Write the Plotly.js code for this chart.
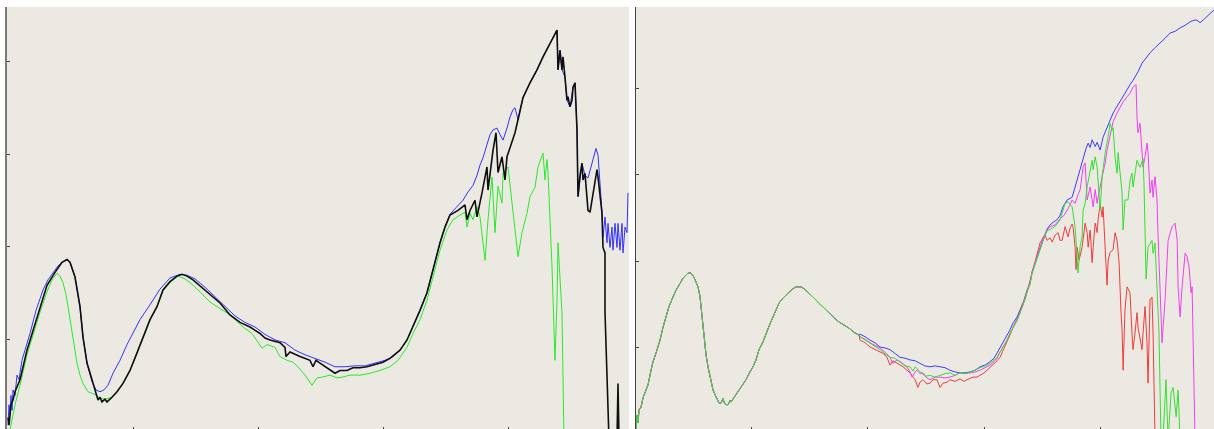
<!DOCTYPE html>
<html>
<head>
<meta charset="utf-8">
<script src="https://cdn.plot.ly/plotly-3.0.1.min.js"></script>
<style>
html,body{margin:0;padding:0;background:#fff;overflow:hidden;}
#chart{width:1214px;height:432px;}
</style>
</head>
<body>
<div id="chart"></div>
<script>
// ---------- Left panel ----------
const lBlackX = [0,0.8,2.4,4,5.6,9.6,15.2,20,25.6,31.2,37.6,43.2,47.2,49.6,53.6,57.6,60,63.2,67.2,69.6,72,73.6,75.2,77.6,79.2,83.2,87.2,92,97.6,103.2,108,113.6,119.2,124,129.6,135.2,139.2,143.2,148,156,164,169.6,177.6,185.6,193.6,201.6,205.6,209.6,217.6,221.6,222.4,225.6,233.6,237.6,241.6,244,246.4,249.6,253.6,257.6,261.6,265.6,271.2,276,281.6,287.2,292,297.6,300,305.6,313.6,319.2,324,329.6,335.2,340,345.6,349.6,353.6,360,365.6,367.2,369.6,373.6,375.2,379.2,383.2,384,388,390.4,392,395.2,397.6,399.2,403.2,405.6,408,409.6,412,417.6,423.2,428,433.6,439.2,440,441.6,443.2,444,445.6,447.2,448,449.6,451.2,452,453.6,455.2,456,457.6,459.2,460,461.6,464,465.6,468,471.2,472,475.2,476,477.6,477.6,480.8,483.2,487.2,488,488.8];
const lBlackY = [1.5,0.7,2.9,3.4,4.3,5.6,8.8,10.9,13.5,15.8,17.2,18.3,18.6,18.3,16.7,13.5,10.2,7.4,5.6,4.5,3.4,3.7,3.2,3.5,3.2,3.7,4.3,5.2,6.6,8.5,10.2,12.1,13.5,15.3,16.2,16.8,17.0,16.8,16.4,15.5,14.5,13.9,12.6,11.8,11.3,10.6,10.1,9.9,9.6,9.1,8.1,8.6,8.1,7.9,7.7,7.0,7.7,7.4,7.0,6.6,6.3,6.6,6.6,6.9,6.9,7.0,7.2,7.4,7.5,7.9,8.8,9.9,11.3,13.1,15.0,17.5,20.4,22.1,23.4,23.9,24.5,22.9,23.9,25.0,23.2,25.8,28.6,26.1,30.4,32.3,28.0,29.7,27.2,29.7,31.5,32.3,33.7,34.8,36.1,37.7,39.1,40.5,42.0,43.4,39.1,41.2,39.1,40.5,38.3,35.8,36.2,35.1,35.8,37.2,37.7,32.6,25.4,27.7,29.0,27.2,27.9,23.9,23.7,25.8,28.3,27.5,23.6,19.9,19.3,12.9,-0.9,-0.9,-0.9,5.2,-0.9];

const lBlueX = [0,0.8,1.6,2.4,3.2,4,5.6,7.2,8.8,11.2,13.6,17.6,22.4,28,32,36,40,43.2,47.2,49.6,53.6,57.6,60,63.2,67.2,70.4,73.6,76.8,80,84,89.6,95.2,100,105.6,113.6,121.6,129.6,137.6,143.2,149.6,157.6,165.6,173.6,181.6,189.6,197.6,205.6,213.6,221.6,229.6,237.6,245.6,253.6,261.6,269.6,277.6,285.6,293.6,301.6,308,313.6,319.2,324,329.6,335.2,340,345.6,349.6,353.6,358.4,364,368,372,375.2,377.6,380,383.2,385.6,388,391.2,393.6,396,399.2,401.6,404,405.6,408,409.6,412,417.6,423.2,428,433.6,439.2,440,441.6,443.2,445.6,447.2,449.6,452,453.6,455.2,456,459.2,461.6,464,465.6,468,470.4,472,473.6,475.2,476,477.6,479.2,480,481.6,483.2,484,485.6,487.2,488,489.6,491.2,492,493.6,495.2,496];
const lBlueY = [0.7,2.9,1.8,3.9,2.3,4.5,3.9,6.1,5.6,7.7,8.8,10.6,13.1,15.3,16.4,17.1,17.9,18.3,18.6,18.3,16.7,13.5,10.2,7.4,5.4,4.5,4.3,4.5,5.0,6.3,7.7,9.4,10.6,12.1,13.7,15.4,16.6,17.0,16.9,16.5,15.6,14.6,13.5,12.5,11.8,11.3,10.5,9.9,9.6,8.8,8.3,7.9,7.5,7.0,7.0,7.1,7.1,7.4,7.7,8.1,8.8,9.9,11.3,13.1,15.0,17.5,20.4,22.1,23.5,24.2,25.0,25.9,26.6,27.7,28.8,29.6,31.0,32.1,32.6,32.8,32.1,31.5,32.8,34.0,34.8,35.0,33.7,34.8,36.1,37.7,39.1,40.5,42.0,43.4,39.1,41.2,39.1,38.3,35.8,35.1,37.2,37.7,32.6,25.4,29.0,27.7,27.4,28.2,29.4,30.6,29.9,27.2,23.7,21.0,23.2,20.4,22.5,19.9,22.1,19.6,22.5,19.9,22.5,19.6,22.5,19.3,22.1,21.5,25.8];

const lGreenX = [0,3.2,5.6,9.6,15.2,20,25.6,31.2,35.2,39.2,41.6,44,46.4,48,49.6,51.2,53.6,55.2,57.6,60,64,69.6,73.6,77.6,83.2,87.2,92,97.6,103.2,108,113.6,119.2,124,129.6,136,141.6,145.6,153.6,161.6,169.6,177.6,184,188,195.2,200,203.2,207.2,213.6,217.6,223.2,228,232,237.6,243.2,247.2,252,257.6,263.2,268,273.6,281.6,289.6,297.6,305.6,312,319.2,324,329.6,335.2,340,345.6,351.2,356,361.6,365.6,367.2,369.6,372,375.2,377.6,381.6,384,387.2,389.6,392,395.2,396,400,404,408,411.2,415.2,417.6,421.6,424,428,429.6,431.2,432,435.2,437.6,439.2,440,441.6,443.2,444.8];
const lGreenY = [-0.9,1.2,2.9,5.0,8.3,10.4,12.9,15.1,16.4,17.1,16.8,16.1,14.8,13.5,12.1,10.6,8.8,7.4,6.1,5.2,4.3,4.0,3.6,3.5,3.7,4.3,5.2,6.6,8.5,10.2,12.1,13.5,15.2,16.1,16.8,16.5,16.1,15.1,14.0,13.3,12.6,11.8,11.3,10.6,9.6,9.0,9.4,9.1,8.1,7.7,7.5,7.0,6.1,5.0,5.8,5.9,6.1,5.8,5.9,6.1,6.1,6.3,6.6,7.0,7.7,9.1,10.6,12.1,14.2,16.6,19.6,21.8,22.9,23.4,23.7,22.1,23.6,22.9,24.3,23.2,18.5,22.9,27.5,21.5,26.5,24.7,27.9,28.6,23.6,18.9,21.5,23.6,25.4,26.4,28.6,30.1,27.2,29.4,28.0,17.8,7.7,14.2,20.4,16.1,12.8,-0.9];

// ---------- Right panel ----------
const rCommonX = [1.3,2.1,3.0,3.9,5.6,7.3,9.9,11.6,14.2,15.9,18.5,21.9,24.5,27.0,29.6,33.0,35.6,39.1,41.6,45.9,48.5,51.1,52.8,54.5,56.2,57.1,58.8,59.7,61.4,63.1,65.7,67.4,70.0,72.5,74.3,76.0,76.8,78.5,80.3,82.0,82.8,85.4,87.1,89.7,92.3,95.7,98.3,101.7,104.3,106.9,110.3,112.9,116.3,118.9,121.5,124.0,127.5,131.8,135.2,138.6,142.9,146.4,149.8,154.1,158.4,162.7,167.0,171.3,175.6,179.8,184.1,188.4,192.7];
const rCommonY = [0.5,2.1,1.2,2.7,3.0,4.1,5.0,5.6,7.3,8.3,9.3,10.8,12.3,13.5,14.7,15.8,16.6,17.4,18.0,18.6,18.6,18.1,17.6,17.0,15.9,14.7,12.9,11.2,9.1,7.7,5.8,5.0,4.2,3.5,3.5,4.0,3.6,3.3,3.3,3.8,3.6,4.1,4.5,5.0,5.5,6.2,6.9,7.7,8.5,9.7,10.6,11.6,12.7,13.5,14.3,15.1,15.7,16.3,16.7,17.0,17.0,16.7,16.3,15.7,15.1,14.5,14.0,13.4,12.9,12.6,12.2,11.7,11.4];

const rBlueX = [193.6,197.9,202.2,206.4,210.7,215.0,219.3,223.6,227.9,232.2,236.5,240.8,245.0,249.3,253.6,257.9,262.2,266.5,270.8,275.1,279.4,283.7,288.0,292.3,296.6,300.9,305.2,308.6,311.2,313.7,316.3,319.8,322.3,324.9,328.4,330.9,333.5,336.9,339.5,341.2,342.9,345.5,348.1,350.7,354.1,356.7,359.3,362.7,365.3,367.8,371.3,373.8,375.6,378.2,380.7,382.5,385.0,387.6,389.4,391.1,392.8,395.4,397.1,399.7,402.2,405.6,408.2,410.8,412.5,416.8,421.0,425.3,427.9,432.2,435.6,439.1,442.5,446.8,451.1,455.4,459.7,464.0,468.3,472.6,476.8,480.3,482.8,485.4,488.0,491.4,494.0,497.4];
const rBlueY = [11.5,11.2,10.8,10.5,10.0,9.9,9.7,9.2,8.8,8.7,8.5,8.4,8.1,7.8,7.7,7.8,7.7,7.6,7.3,7.1,7.0,7.0,7.1,7.3,7.7,7.9,8.3,8.7,9.3,9.9,10.5,11.3,12.0,12.8,13.5,14.3,15.1,16.6,17.4,18.7,19.4,20.3,21.3,22.4,23.7,24.2,24.5,24.8,25.3,26.3,27.1,27.3,27.4,28.6,29.8,30.9,32.1,33.1,33.7,33.2,34.1,33.3,33.8,32.9,34.4,35.6,36.4,37.2,37.6,38.5,39.5,40.5,41.0,42.0,43.0,43.6,44.2,44.8,45.3,45.9,46.5,46.7,47.1,47.4,47.8,48.0,48.0,47.7,48.0,48.4,48.7,49.2];

const rGreenX = [193.6,197.9,202.2,206.4,210.7,215.0,219.3,223.6,227.9,232.2,236.5,239.1,240.8,245.0,249.3,253.6,257.9,262.2,266.5,270.8,275.1,279.4,283.7,288.0,292.3,296.6,300.9,305.2,308.6,311.2,313.7,316.3,319.8,322.3,324.9,328.4,330.9,333.5,336.9,339.5,341.2,342.9,345.5,348.1,350.7,354.1,356.7,361.0,365.3,369.6,372.1,375.6,378.2,379.9,380.7,382.5,384.2,385.0,386.8,388.5,391.1,392.8,393.7,395.4,397.1,397.9,399.7,401.4,404.0,406.6,408.2,410.0,410.8,412.5,414.2,415.1,416.8,418.5,419.4,421.0,423.6,425.3,427.0,427.9,431.3,433.9,436.5,437.3,439.1,440.8,444.2,445.1,446.8,448.5,450.2,451.9,453.6,456.2,458.0,460.6,462.3,464.9,466.6,468.3];
const rGreenY = [11.2,10.8,10.5,10.1,9.7,9.2,8.8,8.7,8.3,7.8,7.7,7.2,7.7,7.1,6.6,6.7,6.5,6.7,6.9,7.0,6.7,7.0,6.9,7.1,7.3,7.6,7.8,8.1,8.5,8.8,9.4,10.0,10.8,11.6,12.3,13.1,14.0,14.9,16.4,17.3,18.5,19.2,20.2,21.3,22.4,23.5,23.7,24.0,24.8,26.7,26.9,26.3,24.0,20.9,18.6,21.7,22.8,25.9,26.7,28.6,30.6,31.7,30.6,32.1,30.9,29.1,25.9,29.8,32.6,34.5,36.0,35.2,35.5,32.0,30.2,32.6,30.2,27.9,23.6,27.1,27.1,29.4,30.2,28.6,31.7,30.9,31.9,29.1,17.9,21.6,22.4,20.9,22.1,16.3,11.6,-0.8,-0.8,6.2,-0.8,4.7,5.3,1.9,5.0,-0.8];

const rMagentaX = [193.6,197.9,202.2,206.4,210.7,215.0,219.3,221.8,225.3,227.9,231.3,233.9,236.5,238.2,240.8,242.5,245.0,247.6,251.0,253.6,257.9,262.2,266.5,270.8,275.1,279.4,283.7,288.0,292.3,296.6,300.9,305.2,308.6,311.2,313.7,316.3,319.8,322.3,324.9,328.4,330.9,333.5,336.9,339.5,341.2,342.9,345.5,348.1,350.7,354.1,356.7,361.0,365.3,368.7,371.3,373.8,375.6,378.2,380.7,382.5,385.0,386.8,388.5,391.1,393.7,395.4,397.1,397.9,401.4,404.0,405.6,408.2,410.8,414.2,416.8,419.4,422.8,425.3,427.9,430.5,431.3,432.2,433.9,435.6,436.5,438.2,439.9,440.8,442.5,444.2,445.1,446.8,448.5,449.3,451.1,452.8,455.4,458.0,461.4,464.0,465.8,466.6,468.3,470.0,472.6,474.3,476.0,477.7,478.6,479.4,481.1];
const rMagentaY = [11.2,10.9,10.5,10.2,9.9,9.4,8.8,8.1,8.5,8.3,8.0,7.7,7.1,6.5,7.1,7.3,6.9,7.0,6.4,6.2,6.5,6.5,6.4,6.5,6.7,7.0,6.9,7.0,7.1,7.3,7.6,7.9,8.3,8.7,9.4,10.0,10.8,11.6,12.3,13.1,14.0,14.9,16.4,17.4,18.7,19.4,20.5,21.6,22.7,23.6,24.0,24.2,24.9,25.3,25.9,26.5,27.1,26.7,27.7,28.3,30.9,31.4,27.1,28.6,26.3,28.3,26.7,27.4,29.8,31.4,32.9,34.7,36.2,37.2,37.8,38.5,39.1,39.5,40.2,40.5,36.7,34.9,36.0,32.4,30.9,32.1,33.7,32.6,27.9,29.4,27.4,29.8,27.1,23.3,15.5,10.5,15.5,22.4,24.0,24.4,22.4,17.0,13.5,17.0,20.9,20.5,19.3,16.3,17.0,11.6,-0.8];

const rRedX = [193.6,197.9,202.2,206.4,210.7,214.1,216.7,219.3,221.8,225.3,227.9,230.5,233.9,236.5,239.1,240.8,243.3,245.0,247.6,251.0,253.6,256.2,259.6,262.2,264.8,268.2,270.8,275.1,279.4,282.9,285.4,288.0,290.6,294.0,296.6,300.0,302.6,305.2,307.7,311.2,313.7,317.1,319.8,322.3,324.9,328.4,330.9,332.7,335.2,336.9,339.5,342.1,343.8,346.4,348.1,350.7,352.4,354.1,356.7,358.5,361.0,363.6,365.3,367.0,369.6,372.1,373.8,375.6,376.4,378.2,379.0,379.9,381.6,384.2,385.0,386.8,388.5,389.4,391.1,392.8,393.7,395.4,397.1,397.9,399.7,401.4,402.2,404.0,405.6,406.6,408.2,410.8,412.5,414.2,415.9,417.6,418.5,419.4,421.0,422.8,425.3,427.0,427.9,429.6,431.3,432.2,433.9,435.6,436.5,438.2,439.9,440.8,442.5,444.2,445.1,446.8];
const rRedY = [10.8,10.5,10.0,9.7,9.4,9.2,8.8,7.9,8.4,8.1,7.9,7.7,7.3,7.0,6.5,6.2,5.3,5.9,6.2,5.7,5.8,6.2,6.2,5.3,5.8,5.9,6.2,6.0,6.3,6.0,6.2,6.4,6.5,6.5,6.7,7.0,7.3,7.6,7.9,8.4,8.8,9.8,10.5,11.4,12.3,13.4,14.0,14.9,15.5,16.4,17.8,19.2,20.1,21.3,22.1,22.7,23.0,22.4,22.7,22.2,23.0,23.3,22.4,22.4,24.0,22.8,23.8,24.3,24.0,21.6,19.0,21.6,20.1,21.6,22.4,24.4,23.3,21.6,23.6,19.8,21.6,24.4,23.3,24.8,26.7,25.1,26.3,21.3,17.2,20.1,21.0,21.3,23.3,22.4,19.9,14.0,12.0,7.3,14.3,17.0,16.3,11.6,9.7,11.6,14.0,12.3,10.8,9.7,11.6,14.7,10.5,5.8,15.5,15.8,11.6,-0.8];

const xTicks = [100, 200, 300, 400];
const yTicks = [10, 20, 30, 40];

const traces = [
  {x: lBlueX, y: lBlueY, xaxis: 'x', yaxis: 'y', mode: 'lines', line: {color: 'rgb(50,50,255)', width: 1}},
  {x: lGreenX, y: lGreenY, xaxis: 'x', yaxis: 'y', mode: 'lines', line: {color: 'rgb(40,235,40)', width: 1}},
  {x: lBlackX, y: lBlackY, xaxis: 'x', yaxis: 'y', mode: 'lines', line: {color: 'rgb(15,15,15)', width: 1.6}},
  {x: rCommonX.concat(rBlueX), y: rCommonY.concat(rBlueY), xaxis: 'x2', yaxis: 'y2', mode: 'lines', line: {color: 'rgb(60,60,255)', width: 1}},
  {x: rCommonX.concat(rRedX), y: rCommonY.concat(rRedY), xaxis: 'x2', yaxis: 'y2', mode: 'lines', line: {color: 'rgb(240,60,60)', width: 1}},
  {x: rCommonX.concat(rMagentaX), y: rCommonY.concat(rMagentaY), xaxis: 'x2', yaxis: 'y2', mode: 'lines', line: {color: 'rgb(245,60,245)', width: 1}},
  {x: rCommonX.concat(rGreenX), y: rCommonY.concat(rGreenY), xaxis: 'x2', yaxis: 'y2', mode: 'lines', line: {color: 'rgb(50,225,50)', width: 1}}
];

const tickStyle = {ticks: 'inside', tickcolor: '#444', tickwidth: 1, showticklabels: false, showgrid: false, zeroline: false};

const layout = {
  width: 1214, height: 432,
  margin: {l: 0, r: 0, t: 7, b: 0, pad: 0},
  paper_bgcolor: '#ffffff',
  plot_bgcolor: 'rgb(236,233,227)',
  showlegend: false,
  xaxis: Object.assign({}, tickStyle, {domain: [7/1214, 629/1214], range: [-0.8, 496.8], tickvals: xTicks, ticklen: 5, showline: false}),
  yaxis: Object.assign({}, tickStyle, {domain: [0, 1], range: [-0.05, 45.89], tickvals: yTicks, ticklen: 3, showline: true, linecolor: '#7a7a7a', linewidth: 2, anchor: 'x'}),
  xaxis2: Object.assign({}, tickStyle, {domain: [636/1214, 1], range: [1.29, 497.4], tickvals: xTicks, ticklen: 5, showline: false, anchor: 'y2'}),
  yaxis2: Object.assign({}, tickStyle, {domain: [0, 1], range: [0.12, 49.53], tickvals: yTicks, ticklen: 3, showline: true, linecolor: '#444', linewidth: 1.5, anchor: 'x2'}),
  yaxis3: Object.assign({}, tickStyle, {overlaying: 'y2', side: 'right', anchor: 'x2', range: [0.12, 49.53], tickvals: yTicks, ticklen: 3, showline: false})
};

Plotly.newPlot('chart', traces, layout, {displayModeBar: false, staticPlot: true});
</script>
</body>
</html>
